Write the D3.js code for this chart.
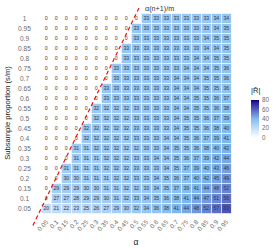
<!DOCTYPE html>
<html><head><meta charset="utf-8">
<script src="https://cdn.jsdelivr.net/npm/d3@7"></script>
<style>body{margin:0;background:#fff} svg{display:block;font-family:"Liberation Sans",Arial,sans-serif}</style>
</head><body><svg id="c" width="274" height="249"></svg>
<script>
// x categories (alpha), y categories (subsample proportion, top to bottom)
const alphaLabels = ["0.05","0.1","0.15","0.2","0.25","0.3","0.35","0.4","0.45","0.5","0.55","0.6","0.65","0.7","0.75","0.8","0.85","0.9","0.95"];
const sLabels = ["1","0.95","0.9","0.85","0.8","0.75","0.7","0.65","0.6","0.55","0.5","0.45","0.4","0.35","0.3","0.25","0.2","0.15","0.1","0.05"];
// |R| values, one row per s (top to bottom), one entry per alpha
const gridValues = [
 [0,0,0,0,0,0,0,0,0,0,33,33,33,33,33,33,33,34,34],
 [0,0,0,0,0,0,0,0,0,33,33,33,33,33,33,33,33,34,35],
 [0,0,0,0,0,0,0,0,0,33,33,33,33,33,33,33,34,35,35],
 [0,0,0,0,0,0,0,0,33,33,33,33,33,33,33,33,34,34,35],
 [0,0,0,0,0,0,0,0,33,33,33,33,33,33,33,34,34,35,35],
 [0,0,0,0,0,0,0,33,33,33,33,33,33,33,34,34,34,35,36],
 [0,0,0,0,0,0,0,33,33,33,33,33,33,34,34,34,35,35,36],
 [0,0,0,0,0,0,33,33,33,33,33,33,33,34,34,34,35,35,36],
 [0,0,0,0,0,0,33,33,33,33,33,33,33,34,34,35,35,36,37],
 [0,0,0,0,0,32,32,32,32,33,33,33,33,34,34,35,35,36,38],
 [0,0,0,0,0,32,32,32,32,33,33,33,33,34,35,35,36,37,39],
 [0,0,0,0,32,32,32,32,32,33,33,33,33,34,35,35,36,38,40],
 [0,0,0,0,32,32,32,32,32,33,33,33,34,34,35,36,37,39,41],
 [0,0,0,31,31,32,32,32,32,32,33,33,34,35,35,36,38,40,42],
 [0,0,0,31,31,31,32,32,32,33,33,34,34,35,36,37,39,42,44],
 [0,0,31,31,31,31,32,32,32,33,33,33,34,35,37,39,40,43,46],
 [0,0,30,30,31,31,31,32,32,33,33,34,35,36,37,40,42,45,49],
 [0,29,29,29,30,30,31,31,32,32,33,34,35,37,39,41,44,48,52],
 [0,27,27,28,29,29,30,31,32,33,34,35,36,38,41,44,47,51,56],
 [20,21,22,23,25,26,27,29,30,32,34,36,38,41,44,48,52,57,63]
];
const legendTicks = [0,20,40,60,80];
const lineSlope = 2.05;          // (n+1)/m
const lineAlphaRange = [-0.017, 0.52];
const lineLabel = "α(n+1)/m";
const legendTitle = "|R\u0302|";
const xTitle = "α";
const yTitle = "Subsample proportion (s/m)";

const svg = d3.select("#c");
const x = d3.scaleBand().domain(alphaLabels).range([41.3, 231.3]);
const y = d3.scaleBand().domain(sLabels).range([13.5, 213.5]);
const bw = x.bandwidth(), bh = y.bandwidth();
const color = d3.scaleLinear().domain([0,40,80]).range(["#ffffff","#80bcf0","#00008b"]).interpolate(d3.interpolateLab);

const cells = [];
gridValues.forEach((row,i)=>row.forEach((v,j)=>cells.push({s:sLabels[i],a:alphaLabels[j],v})));

svg.append("g").selectAll("rect").data(cells).join("rect")
  .attr("x",d=>x(d.a)).attr("y",d=>y(d.s)).attr("width",bw).attr("height",bh)
  .attr("fill",d=>color(d.v)).attr("stroke","#ffffff").attr("stroke-width",0.6);

svg.append("g").selectAll("text").data(cells).join("text")
  .attr("x",d=>x(d.a)+bw/2).attr("y",d=>y(d.s)+bh/2).attr("dy","0.35em")
  .attr("text-anchor","middle").attr("font-size",5.2).attr("fill","#3a3a3a")
  .text(d=>d.v);

// dashed boundary line
const xl = d3.scaleLinear().domain([0.05,0.95]).range([x("0.05")+bw/2, x("0.95")+bw/2]);
const yl = d3.scaleLinear().domain([0.05,1]).range([y("0.05")+bh/2, y("1")+bh/2]);
const lineData = lineAlphaRange.map(a=>({a, s:a*lineSlope}));
svg.append("path").datum(lineData)
  .attr("d",d3.line().x(d=>xl(d.a)).y(d=>yl(d.s)))
  .attr("stroke","#ee1111").attr("stroke-width",1.2).attr("stroke-dasharray","4,3").attr("fill","none");
svg.append("text").attr("x",145).attr("y",11).attr("font-size",7.2).attr("fill","#333").text(lineLabel);

// y axis labels
svg.append("g").selectAll("text").data(sLabels).join("text")
  .attr("x",24.5).attr("y",d=>y(d)+bh/2).attr("dy","0.35em").attr("text-anchor","middle")
  .attr("font-size",6.6).attr("fill","#6b6b6b").text(d=>d);
// x axis labels
svg.append("g").selectAll("text").data(alphaLabels).join("text")
  .attr("transform",d=>`translate(${x(d)+bw/2+1},221) rotate(-45)`)
  .attr("text-anchor","end").attr("dy","0.35em").attr("font-size",6.4).attr("fill","#6b6b6b").text(d=>d);
// titles
svg.append("text").attr("x",136).attr("y",245).attr("text-anchor","middle").attr("font-size",8.5).attr("fill","#222").text(xTitle);
svg.append("text").attr("transform","translate(10,113) rotate(-90)").attr("text-anchor","middle")
  .attr("font-size",7.6).attr("fill","#222").text(yTitle);

// legend
const ly = d3.scaleLinear().domain([0,80]).range([137.7,100]);
const defs = svg.append("defs");
const grad = defs.append("linearGradient").attr("id","lg").attr("x1",0).attr("x2",0).attr("y1",1).attr("y2",0);
d3.range(0,81,4).forEach(v=>grad.append("stop").attr("offset",v/80).attr("stop-color",color(v)));
svg.append("rect").attr("x",251).attr("y",ly(80)).attr("width",8).attr("height",ly(0)-ly(80)).attr("fill","url(#lg)");
svg.append("g").selectAll("text").data(legendTicks).join("text")
  .attr("x",262).attr("y",d=>ly(d)).attr("dy","0.35em").attr("font-size",6.3).attr("fill","#6b6b6b").text(d=>d);
svg.append("text").attr("x",251).attr("y",93).attr("font-size",7.6).attr("fill","#222").text(legendTitle);
</script></body></html>
